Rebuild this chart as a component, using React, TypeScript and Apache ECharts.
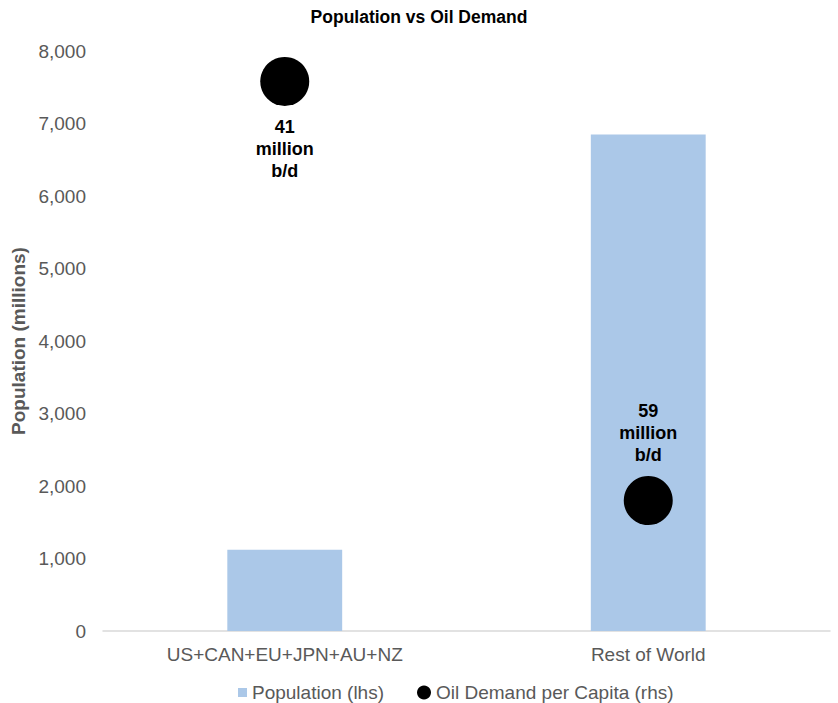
import React, { useEffect, useRef } from "react";
import * as echarts from "echarts";

const categories = ["US+CAN+EU+JPN+AU+NZ", "Rest of World"];
const population = [1120, 6850];
const oilPerCapita = [37.9, 9.0];
const oilDemandLabels = [41, 59];
const yTicks = { min: 0, max: 8000, interval: 1000 };

export default function App() {
  const ref = useRef<HTMLDivElement>(null);
  useEffect(() => {
    if (!ref.current) return;
    const chart = echarts.init(ref.current, undefined, { renderer: "svg" });
    const font = "'Liberation Sans', Arial, sans-serif";
    const legendText = { fontFamily: font, fontSize: 19, color: "#595959" };
    chart.setOption({
      animation: false,
      textStyle: { fontFamily: font },
      title: {
        text: "Population vs Oil Demand",
        left: "center",
        top: 3,
        textStyle: { fontFamily: font, fontSize: 17.5, fontWeight: "bold", color: "#000" },
      },
      grid: { left: 103, right: 8, top: 51, bottom: 72, containLabel: false },
      legend: [
        {
          left: 238,
          top: 683,
          itemWidth: 9,
          itemHeight: 9,
          padding: 0,
          textStyle: legendText,
          data: [{ name: "Population (lhs)", icon: "rect" }],
        },
        {
          left: 417,
          top: 683,
          itemWidth: 14,
          itemHeight: 14,
          padding: 0,
          textStyle: legendText,
          data: [{ name: "Oil Demand per Capita (rhs)", icon: "circle" }],
        },
      ],
      xAxis: {
        type: "category",
        data: categories,
        axisLine: { lineStyle: { color: "#d9d9d9", width: 1.5 } },
        axisTick: { show: false },
        axisLabel: { fontFamily: font, fontSize: 19, color: "#595959", margin: 14 },
      },
      yAxis: [
        {
          type: "value",
          min: yTicks.min,
          max: yTicks.max,
          interval: yTicks.interval,
          name: "Population (millions)",
          nameLocation: "middle",
          nameGap: 70,
          nameTextStyle: { fontFamily: font, fontSize: 19, fontWeight: "bold", color: "#595959" },
          splitLine: { show: false },
          axisLine: { show: false },
          axisTick: { show: false },
          axisLabel: {
            fontFamily: font,
            fontSize: 19,
            color: "#595959",
            margin: 17,
            formatter: (v: number) => v.toLocaleString("en-US"),
          },
        },
        {
          type: "value",
          min: 0,
          max: 40,
          show: false,
          splitLine: { show: false },
        },
      ],
      series: [
        {
          name: "Population (lhs)",
          type: "bar",
          data: population,
          barWidth: "31.6%",
          itemStyle: { color: "#abc8e8" },
          yAxisIndex: 0,
        },
        {
          name: "Oil Demand per Capita (rhs)",
          type: "scatter",
          yAxisIndex: 1,
          symbolSize: 49,
          itemStyle: { color: "#000", opacity: 1 },
          data: oilPerCapita.map((v, i) => ({
            value: v,
            label: {
              show: true,
              position: i === 0 ? "bottom" : "top",
              distance: 10,
              formatter: `${oilDemandLabels[i]}\nmillion\nb/d`,
              fontFamily: font,
              fontSize: 18,
              fontWeight: "bold",
              lineHeight: 22,
              color: "#000",
              align: "center",
            },
          })),
        },
      ],
    });
    return () => chart.dispose();
  }, []);
  return (
    <div
      ref={ref}
      style={{ position: "fixed", left: 0, top: 0, width: 838, height: 703, background: "#fff" }}
    />
  );
}
